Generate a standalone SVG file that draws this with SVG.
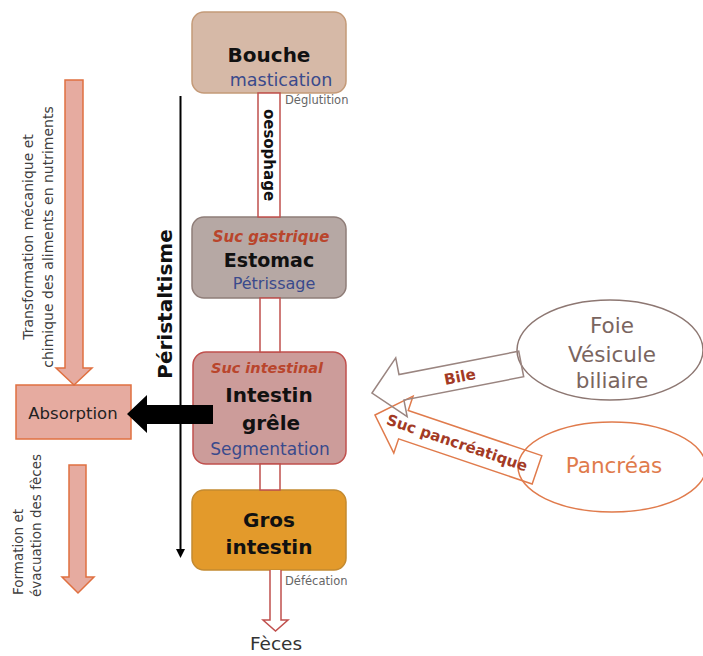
<svg xmlns="http://www.w3.org/2000/svg" width="703" height="656" viewBox="0 0 703 656">
<style>
text{font-family:"DejaVu Sans","Liberation Sans",sans-serif}
.box{stroke-width:1.5}
.title{font-weight:bold;fill:#111;text-anchor:middle}
.act{fill:#3a4a8c;text-anchor:middle}
.suc{fill:#b9452c;font-weight:bold;font-style:italic;text-anchor:middle}
.small{fill:#666;font-size:11.5px}
.tube{fill:#fff;stroke:#c0504d;stroke-width:1.5}
.pink{fill:#e6aba0;stroke:#e07040;stroke-width:1.5}
.side{fill:#404040;font-size:14px;text-anchor:middle}
</style>
<g id="bouche">
<rect class="box" x="192" y="12" width="154" height="81" rx="12" fill="#d6b9a7" stroke="#c49a78"/>
<text class="title" x="269" y="62" font-size="20">Bouche</text>
<text class="act" x="281" y="86" font-size="17.5">mastication</text>
</g>
<g id="estomac">
<rect class="box" x="192" y="217" width="154" height="81" rx="12" fill="#b6a8a4" stroke="#8f7d78"/>
<text class="suc" x="271" y="242" font-size="15">Suc gastrique</text>
<text class="title" x="269" y="267" font-size="19">Estomac</text>
<text class="act" x="274" y="289" font-size="16">Pétrissage</text>
</g>
<g id="intestin-grele">
<rect class="box" x="193" y="352" width="153" height="112" rx="13" fill="#cc9c9a" stroke="#c0504d"/>
<text class="suc" x="267" y="373" font-size="14.5">Suc intestinal</text>
<text class="title" x="269" y="402" font-size="20">Intestin</text>
<text class="title" x="271" y="430" font-size="20">grêle</text>
<text class="act" x="270" y="455" font-size="17">Segmentation</text>
</g>
<g id="gros-intestin">
<rect class="box" x="192" y="490" width="154" height="80" rx="12" fill="#e39a2b" stroke="#c48a30"/>
<text class="title" x="269" y="527" font-size="20">Gros</text>
<text class="title" x="269" y="554" font-size="20">intestin</text>
</g>
<g id="absorption">
<rect x="16" y="385" width="115" height="54" fill="#e6aba0" stroke="#e07040" stroke-width="1.5"/>
<text x="73" y="419" font-size="16.5" fill="#222" text-anchor="middle">Absorption</text>
</g>
<g id="foie">
<ellipse cx="610" cy="350" rx="93" ry="50" fill="none" stroke="#8d7772" stroke-width="1.5"/>
<text x="612" y="333" font-size="21.5" fill="#7a655f" text-anchor="middle">Foie</text>
<text x="612" y="362" font-size="21.5" fill="#7a655f" text-anchor="middle">Vésicule</text>
<text x="612" y="388" font-size="21.5" fill="#7a655f" text-anchor="middle">biliaire</text>
</g>
<g id="pancreas">
<ellipse cx="612" cy="467" rx="94" ry="45" fill="none" stroke="#e07b4c" stroke-width="1.5"/>
<text x="614" y="473" font-size="21.5" fill="#e07b4c" text-anchor="middle">Pancréas</text>
</g>
<g id="connectors">
<rect class="tube" x="258" y="93" width="22" height="124"/>
<rect class="tube" x="260" y="298" width="20" height="54"/>
<rect class="tube" x="260" y="464" width="20" height="26"/>
<path class="tube" d="M270,570 V620 H263 L275.5,631 L288,620 H281 V570"/>
<path class="pink" d="M65,80 H83 V368 H92 L74,385 L56,368 H65 Z"/>
<path class="pink" d="M69,465 H86 V577 H94 L78,593 L62,577 H69 Z"/>
<line x1="180.5" y1="96" x2="180.5" y2="550" stroke="#000" stroke-width="2"/>
<path d="M176,549 L180.5,558 L185,549 Z" fill="#000"/>
<path d="M213,405 V424 H147 V433 L127,414 L147,395 V405 Z" fill="#000"/>
<polygon points="0,0 30,-30 30,-15 171,-15 171,15 30,15 30,30" transform="translate(375,415) rotate(18.7)" fill="none" stroke="#e07b4c" stroke-width="1.5"/>
<polygon points="0,0 30,-30 30,-13 152,-13 152,13 30,13 30,30" transform="translate(372,393) rotate(-11)" fill="none" stroke="#9a8580" stroke-width="1.5"/>
<text transform="rotate(-11,460,377)" x="460" y="382" font-size="15" font-weight="bold" fill="#a33a25" text-anchor="middle">Bile</text>
<text transform="rotate(18.7,457,443)" x="457" y="448" font-size="15" font-weight="bold" fill="#a33a25" text-anchor="middle">Suc pancréatique</text>
<text transform="rotate(90,269,155)" x="269" y="160" font-size="15" font-weight="bold" fill="#111" text-anchor="middle">oesophage</text>
<text class="small" x="285" y="104">Déglutition</text>
<text class="small" x="285" y="585">Défécation</text>
<text x="276" y="650" font-size="18.5" fill="#333" text-anchor="middle">Fèces</text>
<text transform="rotate(-90,172,304)" x="172" y="304" font-size="20" font-weight="bold" fill="#111" text-anchor="middle">Péristaltisme</text>
<text class="side" transform="rotate(-90,33,237)" x="33" y="237">Transformation mécanique et</text>
<text class="side" transform="rotate(-90,53,237)" x="53" y="237">chimique des aliments en nutriments</text>
<text transform="rotate(-90,23,595)" x="23" y="595" font-size="13.5" fill="#404040">Formation et</text>
<text transform="rotate(-90,41,597)" x="41" y="597" font-size="13.5" fill="#404040">évacuation des fèces</text>
</g>
</svg>
